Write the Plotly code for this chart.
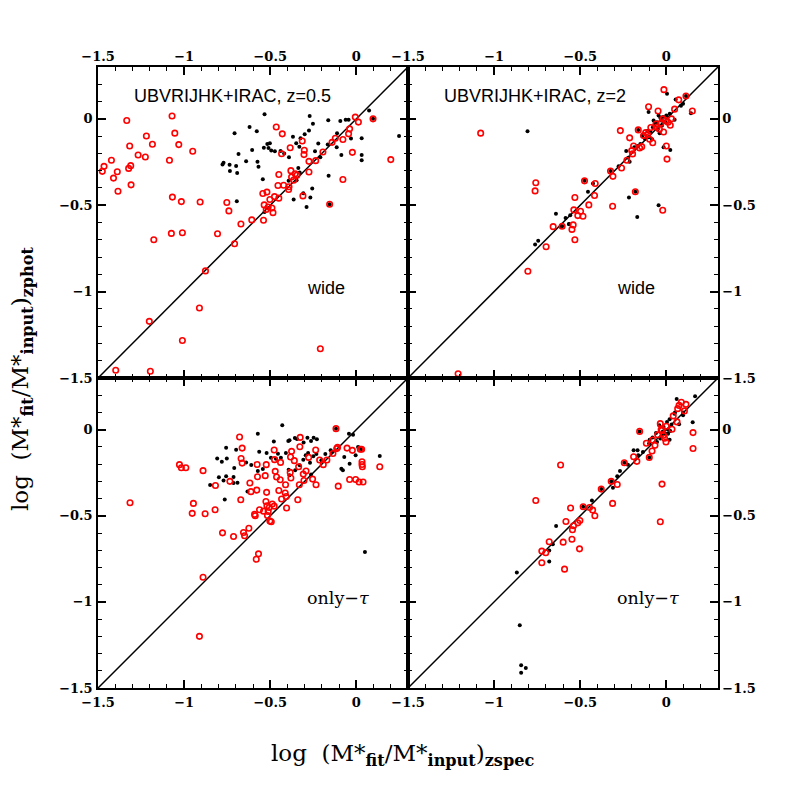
import plotly.graph_objects as go
from plotly.subplots import make_subplots

# one-to-one line, same in every panel
diag = [-1.5, 0.3]

# top-left: UBVRIJHK+IRAC z=0.5, wide
tl_red = [(-1.333, -0.01), (-1.07, 0.016), (-1.054, -0.083), (-1.031, -0.149), (-1.085, -0.24),
          (-0.95, -0.188), (-1.219, -0.099), (-1.184, -0.147), (-1.316, -0.157), (-1.267, -0.209),
          (-1.225, -0.221), (-1.422, -0.24), (-1.465, -0.275), (-1.475, -0.304), (-1.388, -0.306),
          (-1.322, -0.287), (-1.31, -0.271), (-1.41, -0.343), (-1.308, -0.382), (-1.384, -0.419),
          (-1.068, -0.453), (-1.016, -0.479), (-0.907, -0.481), (-0.752, -0.484), (-0.74, -0.533),
          (-0.465, -0.047), (-0.43, -0.087), (-0.384, -0.167), (-0.434, -0.202), (-0.314, -0.128),
          (-0.302, -0.182), (-0.304, -0.207), (-0.275, -0.246), (-0.236, -0.242), (-0.38, -0.30),
          (-0.45, -0.322), (-0.275, -0.308), (-0.355, -0.318), (-0.376, -0.337), (-0.345, -0.326),
          (-0.364, -0.355), (-0.455, -0.386), (-0.422, -0.384), (-0.391, -0.393), (-0.393, -0.409),
          (-0.519, -0.424), (-0.543, -0.432), (-0.475, -0.45), (-0.502, -0.467), (-0.45, -0.459),
          (-0.31, -0.446), (-0.535, -0.498), (-0.512, -0.51), (-0.49, -0.516), (-0.523, -0.525),
          (-0.484, -0.543), (-0.539, -0.587), (-0.607, -0.585), (-0.194, -0.192), (-0.141, -0.136),
          (-0.122, -0.112), (-0.078, -0.12), (-0.045, -0.087), (-0.039, -0.058), (-0.006, 0.01),
          (0.012, -0.019), (0.097, 0.0), (-0.023, -0.194), (-0.078, -0.351), (-0.155, -0.494),
          (0.2, -0.236), (-0.67, -0.609), (-1.176, -0.70), (-1.074, -0.663), (-1.01, -0.659),
          (-0.806, -0.665), (-0.707, -0.723), (-0.876, -0.88), (-0.911, -1.095), (-1.202, -1.172),
          (-1.01, -1.283), (-0.209, -1.331), (-1.397, -1.455), (-1.196, -1.461)]
tl_black = [(-0.533, 0.027), (-0.707, -0.083), (-0.62, -0.047), (-0.578, -0.072), (-0.684, -0.203),
            (-0.605, -0.18), (-0.64, -0.246), (-0.777, -0.264), (-0.771, -0.254), (-0.736, -0.266),
            (-0.698, -0.273), (-0.734, -0.302), (-0.692, -0.314), (-0.574, -0.248), (-0.568, -0.277),
            (-0.537, -0.167), (-0.517, -0.145), (-0.502, -0.141), (-0.51, -0.169), (-0.494, -0.184),
            (-0.473, -0.188), (-0.44, -0.186), (-0.419, -0.2), (-0.391, -0.223), (-0.368, -0.103),
            (-0.349, -0.141), (-0.324, -0.112), (-0.271, 0.016), (-0.252, -0.029), (-0.275, -0.068),
            (-0.3, -0.089), (-0.331, -0.161), (-0.221, -0.143), (-0.163, -0.008), (-0.093, -0.012),
            (-0.062, -0.006), (-0.045, -0.006), (-0.112, -0.083), (-0.166, -0.148), (-0.114, -0.165),
            (-0.087, -0.209), (-0.031, -0.114), (0.031, -0.112), (0.074, 0.048), (0.031, -0.209),
            (0.031, -0.24), (0.248, -0.099), (-0.24, -0.188), (-0.209, -0.223), (-0.543, -0.349),
            (-0.337, -0.285), (-0.329, -0.31), (-0.347, -0.355), (-0.393, -0.359), (-0.161, -0.329),
            (-0.256, -0.403), (-0.308, -0.43), (-0.267, -0.455), (-0.289, -0.51), (-0.694, -0.477),
            (-0.364, -0.467), (-0.533, -0.539), (0.097, 0.0), (-0.155, -0.494)]

# top-right: UBVRIJHK+IRAC z=2, wide
tr_red = [(-1.078, -0.083), (-0.758, -0.37), (-0.762, -0.417), (-0.014, 0.169), (0.072, 0.11),
          (0.114, 0.132), (0.151, 0.045), (-0.103, 0.07), (0.048, 0.056), (-0.048, 0.045),
          (-0.267, -0.068), (-0.213, -0.11), (-0.163, -0.064), (-0.132, -0.097), (-0.109, -0.091),
          (-0.097, -0.118), (-0.079, -0.138), (-0.054, -0.048), (-0.031, -0.025), (-0.004, -0.01),
          (0.023, -0.037), (-0.016, -0.076), (0.0, -0.157), (0.004, -0.233), (-0.19, -0.157),
          (-0.155, -0.169), (-0.143, -0.161), (-0.201, -0.184), (-0.196, -0.203), (-0.229, -0.24),
          (-0.26, -0.285), (-0.324, -0.302), (-0.31, -0.333), (-0.475, -0.359), (-0.413, -0.374),
          (-0.417, -0.444), (-0.531, -0.455), (-0.45, -0.498), (-0.537, -0.527), (-0.498, -0.535),
          (-0.514, -0.56), (-0.484, -0.564), (-0.541, -0.614), (-0.657, -0.624), (-0.312, -0.506),
          (-0.18, -0.422), (-0.021, -0.529), (-0.605, -0.622), (-0.548, -0.64), (-0.531, -0.70),
          (-0.698, -0.74), (-0.804, -0.882), (-1.209, -1.475), (-0.06, -0.03), (-0.02, 0.0),
          (0.01, -0.02), (-0.09, -0.05), (-0.12, -0.08), (0.03, 0.0), (-0.04, -0.06)]
tr_black = [(-0.806, -0.072), (-0.641, -0.55), (-0.585, -0.574), (-0.558, -0.558), (-0.564, -0.61),
            (-0.609, -0.624), (-0.455, -0.422), (-0.426, -0.374), (-0.217, -0.455), (-0.169, -0.568),
            (-0.045, -0.5), (-0.277, -0.275), (-0.233, -0.186), (-0.221, -0.225), (-0.213, -0.248),
            (-0.186, -0.165), (-0.167, -0.157), (-0.151, -0.145), (-0.124, -0.116), (-0.101, -0.107),
            (-0.083, -0.118), (-0.093, -0.076), (-0.078, -0.048), (-0.064, -0.029), (-0.05, -0.062),
            (-0.035, 0.006), (-0.019, 0.01), (-0.025, -0.039), (0.004, 0.145), (0.054, 0.112),
            (0.085, 0.076), (0.097, 0.087), (0.048, -0.006), (-0.103, 0.039), (-0.039, -0.083),
            (-0.016, -0.165), (0.023, -0.18), (0.143, 0.033), (-0.074, -0.01), (-0.054, -0.02),
            (-0.006, -0.02), (-0.045, 0.02), (0.114, 0.132), (-0.163, -0.064), (-0.324, -0.302),
            (-0.475, -0.359), (-0.18, -0.422), (-0.605, -0.622), (-0.762, -0.727), (-0.744, -0.705),
            (-0.566, -0.608), (-0.07, -0.04), (-0.03, -0.01), (0.0, 0.02), (-0.11, -0.07),
            (-0.14, -0.1), (0.02, 0.03)]

# bottom-left: only-tau, z=0.5
bl_red = [(-1.314, -0.424), (-1.027, -0.203), (-1.016, -0.221), (-0.99, -0.221), (-0.89, -0.238),
          (-0.946, -0.428), (-0.953, -0.486), (-0.878, -0.488), (-0.82, -0.465), (-0.818, -0.324),
          (-0.734, -0.30), (-0.777, -0.599), (-0.713, -0.62), (-0.655, -0.597), (-0.649, -0.616),
          (-0.624, -0.572), (-0.678, -0.043), (-0.663, -0.107), (-0.669, -0.167), (-0.663, -0.194),
          (-0.671, -0.407), (-0.618, -0.31), (-0.612, -0.36), (-0.578, -0.351), (-0.576, -0.202),
          (-0.574, -0.273), (-0.591, -0.492), (-0.587, -0.5), (-0.562, -0.465), (-0.539, -0.473),
          (-0.529, -0.267), (-0.523, -0.203), (-0.521, -0.364), (-0.525, -0.417), (-0.519, -0.442),
          (-0.512, -0.475), (-0.516, -0.498), (-0.506, -0.452), (-0.488, -0.432), (-0.477, -0.444),
          (-0.502, -0.531), (-0.494, -0.535), (-0.477, -0.118), (-0.475, -0.174), (-0.471, -0.242),
          (-0.463, -0.275), (-0.45, -0.353), (-0.442, -0.291), (-0.44, -0.19), (-0.434, -0.403),
          (-0.411, -0.32), (-0.413, -0.368), (-0.407, -0.388), (-0.405, -0.455), (-0.384, -0.248),
          (-0.38, -0.281), (-0.376, -0.126), (-0.382, -0.159), (-0.36, -0.18), (-0.34, -0.407),
          (-0.335, -0.215), (-0.331, -0.32), (-0.328, -0.099), (-0.326, -0.045), (-0.308, -0.258),
          (-0.304, -0.295), (-0.292, -0.24), (-0.277, -0.161), (-0.254, -0.287), (-0.236, -0.118),
          (-0.234, -0.32), (-0.213, -0.176), (-0.192, -0.203), (-0.171, -0.176), (-0.136, -0.138),
          (-0.118, 0.006), (-0.114, -0.11), (-0.109, -0.103), (-0.105, -0.328), (-0.054, -0.107),
          (-0.023, -0.12), (-0.039, -0.289), (-0.004, -0.289), (0.016, -0.304), (0.039, -0.304),
          (0.023, -0.114), (0.031, -0.114), (0.033, -0.186), (0.033, -0.202), (0.035, -0.215),
          (0.136, -0.215), (-0.581, -0.752), (-0.568, -0.721), (-0.89, -0.857), (-0.911, -1.2)]
bl_black = [(-0.572, -0.023), (-0.43, 0.025), (-0.479, -0.068), (-0.395, -0.066), (-0.388, -0.062),
            (-0.357, -0.048), (-0.345, -0.054), (-0.306, -0.074), (-0.284, -0.047), (-0.263, -0.066),
            (-0.248, -0.047), (-0.229, -0.056), (-0.756, -0.105), (-0.698, -0.116), (-0.808, -0.167),
            (-0.781, -0.186), (-0.752, -0.167), (-0.709, -0.223), (-0.756, -0.271), (-0.798, -0.277),
            (-0.771, -0.295), (-0.713, -0.275), (-0.713, -0.31), (-0.69, -0.308), (-0.849, -0.322),
            (-0.764, -0.405), (-0.632, -0.359), (-0.64, -0.19), (-0.61, -0.205), (-0.564, -0.128),
            (-0.572, -0.24), (-0.543, -0.229), (-0.521, -0.136), (-0.496, -0.163), (-0.467, -0.169),
            (-0.455, -0.14), (-0.438, -0.163), (-0.409, -0.136), (-0.393, -0.233), (-0.388, -0.265),
            (-0.355, -0.236), (-0.329, -0.207), (-0.308, -0.174), (-0.294, -0.149), (-0.28, -0.136),
            (-0.269, -0.192), (-0.263, -0.26), (-0.25, -0.155), (-0.232, -0.141), (-0.203, -0.178),
            (-0.18, -0.141), (-0.149, -0.12), (-0.14, -0.128), (-0.087, -0.227), (-0.078, -0.236),
            (-0.07, -0.159), (-0.043, -0.023), (-0.019, -0.029), (-0.039, -0.198), (0.01, -0.101),
            (0.019, -0.105), (-0.004, -0.149), (0.136, -0.153), (-0.118, 0.006), (0.031, -0.114),
            (0.05, -0.711)]

# bottom-right: only-tau, z=2
br_red = [(-0.614, -0.205), (-0.758, -0.411), (-0.556, -0.455), (-0.583, -0.533), (-0.539, -0.558),
          (-0.545, -0.581), (-0.514, -0.541), (-0.502, -0.527), (-0.548, -0.636), (-0.599, -0.653),
          (-0.68, -0.651), (-0.504, -0.692), (-0.723, -0.705), (-0.483, -0.448), (-0.446, -0.452),
          (-0.428, -0.467), (-0.415, -0.5), (-0.378, -0.345), (-0.32, -0.3), (-0.285, -0.318),
          (-0.312, -0.428), (-0.244, -0.192), (-0.19, -0.157), (-0.171, -0.184), (-0.155, -0.01),
          (-0.116, -0.079), (-0.099, -0.161), (-0.066, -0.091), (-0.083, -0.124), (-0.035, 0.035),
          (-0.025, -0.004), (-0.016, -0.033), (-0.002, -0.072), (0.033, 0.002), (0.062, 0.045),
          (0.066, 0.122), (0.074, 0.141), (0.087, 0.159), (0.114, 0.147), (0.105, 0.109),
          (0.155, -0.017), (0.155, -0.109), (-0.025, -0.316), (-0.035, -0.535), (-0.70, -0.715),
          (-0.723, -0.773), (-0.591, -0.81), (-0.03, 0.0), (-0.05, -0.03), (0.0, 0.02),
          (-0.01, -0.05), (0.04, 0.08), (-0.08, -0.06)]
br_black = [(-0.64, -0.56), (-0.659, -0.665), (-0.432, -0.411), (-0.31, -0.337), (-0.285, -0.271),
            (-0.269, -0.24), (-0.223, -0.203), (-0.19, -0.12), (-0.167, -0.12), (-0.163, -0.149),
            (-0.136, -0.13), (-0.097, -0.058), (-0.08, -0.045), (-0.054, -0.072), (-0.035, -0.052),
            (-0.041, 0.025), (-0.016, 0.016), (0.004, 0.045), (0.019, 0.06), (0.023, -0.008),
            (0.019, -0.058), (0.047, 0.093), (0.06, 0.178), (0.074, 0.031), (0.097, 0.083),
            (0.167, 0.194), (0.153, 0.043), (-0.006, -0.023), (0.01, -0.023), (-0.025, -0.033),
            (0.097, 0.099), (-0.483, -0.448), (-0.378, -0.345), (-0.32, -0.3), (-0.244, -0.192),
            (-0.155, -0.01), (-0.099, -0.161), (-0.68, -0.702), (-0.68, -0.766), (-0.868, -0.83),
            (-0.851, -1.136), (-0.843, -1.368), (-0.816, -1.384), (-0.843, -1.411), (-0.06, -0.02),
            (-0.02, -0.01), (0.01, 0.0), (0.03, 0.03), (-0.1, -0.08), (0.05, 0.1)]

panel_titles = ["UBVRIJHK+IRAC, z=0.5", "UBVRIJHK+IRAC, z=2", "", ""]
panel_labels = ["wide", "wide", "only\u2212<i>\u03c4</i>", "only\u2212<i>\u03c4</i>"]

panels = [(1, 1, tl_red, tl_black), (1, 2, tr_red, tr_black),
          (2, 1, bl_red, bl_black), (2, 2, br_red, br_black)]

fig = make_subplots(rows=2, cols=2, horizontal_spacing=0, vertical_spacing=0)

for i, (r, c, red, black) in enumerate(panels):
    fig.add_trace(go.Scatter(x=diag, y=diag, mode="lines",
                             line=dict(color="black", width=1.5), showlegend=False), row=r, col=c)
    fig.add_trace(go.Scatter(x=[p[0] for p in black], y=[p[1] for p in black], mode="markers",
                             marker=dict(color="black", size=4), showlegend=False), row=r, col=c)
    fig.add_trace(go.Scatter(x=[p[0] for p in red], y=[p[1] for p in red], mode="markers",
                             marker=dict(symbol="circle-open", color="red", size=5.5,
                                         line=dict(color="red", width=1.6)),
                             showlegend=False), row=r, col=c)

tickfont = dict(family="DejaVu Serif", size=13, color="black", weight="bold")
x_dom = [[98 / 785, 408 / 785], [408 / 785, 718 / 785]]
y_dom = [[(785 - 378) / 785, (785 - 67) / 785], [(785 - 688) / 785, (785 - 378) / 785]]

for i, (r, c, _, _) in enumerate(panels):
    common = dict(range=[-1.5, 0.3], showgrid=False, zeroline=False, showline=True,
                  linecolor="black", linewidth=1.5, mirror="ticks", ticks="inside",
                  ticklen=8, tickwidth=1.5, tickcolor="black", dtick=0.5, tick0=0,
                  minor=dict(dtick=0.1, ticks="inside", ticklen=4, tickwidth=1.2,
                             tickcolor="black"),
                  tickfont=tickfont, automargin=False)
    fig.update_xaxes(common, domain=x_dom[c - 1], side="top" if r == 1 else "bottom",
                     ticklabelstandoff=-1 if r == 1 else 2, row=r, col=c)
    fig.update_yaxes(common, domain=y_dom[r - 1], side="left" if c == 1 else "right",
                     ticklabelstandoff=1 if c == 1 else 0, row=r, col=c)
    xref = "x" if i == 0 else f"x{i + 1}"
    yref = "y" if i == 0 else f"y{i + 1}"
    if panel_titles[i]:
        fig.add_annotation(x=-1.3, y=0.134, xref=xref, yref=yref, text=panel_titles[i],
                           showarrow=False, xanchor="left", yanchor="middle",
                           font=dict(family="Liberation Sans", size=18, color="black"))
    if i < 2:
        lab_font = dict(family="Liberation Sans", size=18, color="black")
    else:
        lab_font = dict(family="DejaVu Serif", size=17.5, color="black")
    fig.add_annotation(x=-0.3, y=-0.977, xref=xref, yref=yref, text=panel_labels[i],
                       showarrow=False, xanchor="left", yanchor="middle", font=lab_font)

title_font = dict(family="DejaVu Serif", size=23, color="black")
fig.add_annotation(x=402 / 785, y=30 / 785, xref="paper", yref="paper", showarrow=False,
                   text="log  (M*<sub><b>fit</b></sub>/M*<sub><b>input</b></sub>)<sub><b>zspec</b></sub>",
                   font=title_font, xanchor="center", yanchor="middle")
fig.add_annotation(x=22 / 785, y=406 / 785, xref="paper", yref="paper", showarrow=False,
                   text="log  (M*<sub><b>fit</b></sub>/M*<sub><b>input</b></sub>)<sub><b>zphot</b></sub>",
                   font=title_font, textangle=-90, xanchor="center", yanchor="middle")

fig.update_layout(width=785, height=785,
                  margin=dict(l=0, r=0, t=0, b=0, autoexpand=False),
                  plot_bgcolor="white", paper_bgcolor="white")

fig.write_html("out.html", config={"displayModeBar": False},
               post_script="document.body.style.margin='0';")
